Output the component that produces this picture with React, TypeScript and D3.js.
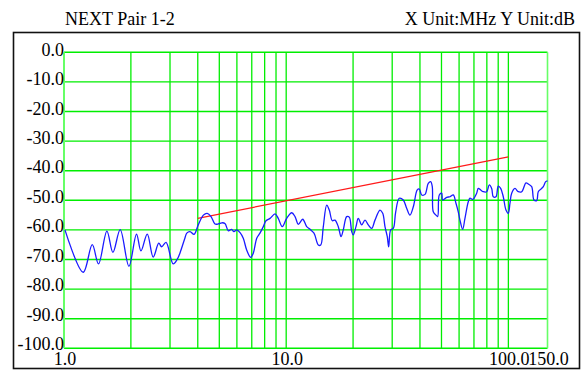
import React from "react";
import * as d3 from "d3";

const titleLeft = "NEXT Pair 1-2";
const titleRight = "X Unit:MHz Y Unit:dB";

const yTicks = [0, -10, -20, -30, -40, -50, -60, -70, -80, -90, -100];
const yTickLabels = ["0.0", "-10.0", "-20.0", "-30.0", "-40.0", "-50.0", "-60.0", "-70.0", "-80.0", "-90.0", "-100.0"];
const xTickValues = [1, 10, 100, 150];
const xTickLabels = ["1.0", "10.0", "100.0", "150.0"];
const gridFreqs = [2, 3, 4, 5, 6, 7, 8, 9, 10, 20, 30, 40, 50, 60, 70, 80, 90, 100];

// limit line (MHz, dB)
const limitFreq = [4, 100];
const limitDb = [-56.1, -35.3];

// measured NEXT curve (MHz, dB)
const measFreq = [
  1.01, 1.22, 1.34, 1.43, 1.56, 1.66, 1.79, 1.96, 2.12, 2.22, 2.37, 2.52, 2.67, 2.75, 2.88, 3.1, 3.24, 3.33,
  3.5, 3.57, 3.69, 3.85, 4.02, 4.24, 4.41, 4.59, 4.78, 4.95, 5.13, 5.3, 5.49, 5.68, 5.82, 5.99, 6.2, 6.41,
  6.64, 6.92, 7.11, 7.37, 7.62, 7.89, 8.11, 8.46, 8.91, 9.21, 9.6, 10.05, 10.59, 10.96, 11.34, 11.87,
  12.37, 12.8, 13.34, 13.95, 14.3, 14.69, 15.22, 15.63, 16.13, 16.58, 17.16, 17.65, 18.07, 18.72, 19.23,
  19.72, 20.04, 20.61, 21.11, 21.87, 22.63, 23.42, 24.26, 25.1, 26.43, 27.19, 27.84, 28.51, 28.93, 29.53,
  30.34, 31.11, 32.28, 33.65, 34.85, 36.06, 37.33, 38.9, 39.72, 40.72, 42.14, 43.6, 44.7, 45.45, 45.92,
  47.23, 48.06, 48.87, 50.1, 50.62, 52.77, 54.61, 56.49, 58.09, 59.49, 60.55, 62.26, 63.77, 66.0, 67.18,
  69.08, 72.0, 73.21, 75.06, 77.11, 79.87, 82.04, 84.11, 85.51, 87.94, 90.06, 92.33, 94.85, 97.55, 99.89,
  101.67, 103.49, 107.08, 110.8, 114.8, 120.0, 122.9, 127.3, 130.4, 134.1, 136.3, 139.8, 143.6, 147.2, 150,
];
const measDb = [
  -60.0, -74.3, -65.0, -71.5, -60.4, -67.6, -59.9, -72.3, -61.4, -67.1, -61.4, -69.2, -64.5, -65.7, -64.2, -71.5, -69.8, -67.7,
  -62.8, -61.1, -60.6, -61.5, -58.3, -55.0, -54.4, -55.5, -58.0, -58.0, -57.6, -57.8, -60.3, -59.8, -60.6, -60.0, -60.9, -62.8,
  -66.8, -69.3, -67.9, -62.8, -61.1, -58.9, -56.9, -56.1, -54.6, -56.1, -58.9, -56.1, -54.2, -55.5, -58.1, -56.4,
  -58.9, -59.8, -61.1, -65.1, -65.1, -58.9, -51.6, -53.3, -56.9, -56.7, -58.9, -62.3, -60.0, -55.5, -55.7,
  -60.6, -61.7, -58.9, -56.1, -58.3, -56.7, -58.3, -59.5, -56.7, -53.3, -54.4, -58.9, -62.3, -65.7, -60.0,
  -59.5, -53.9, -49.3, -49.9, -52.7, -55.0, -52.2, -46.5, -46.2, -48.2, -48.0, -44.3, -43.7, -45.4, -53.9,
  -55.0, -55.5, -48.2, -47.6, -49.9, -49.0, -48.8, -48.2, -51.0, -53.9, -56.7, -59.8, -56.1, -50.5, -49.3,
  -49.7, -47.6, -46.0, -46.5, -47.1, -47.1, -44.8, -46.0, -48.8, -48.8, -45.2, -46.0, -48.8, -53.3, -54.4,
  -51.0, -47.6, -46.0, -47.1, -47.1, -44.1, -44.5, -45.4, -49.9, -50.1, -47.1, -46.3, -45.4, -43.7, -43.4,
];

const W = 588;
const H = 383;
const textStyle: React.CSSProperties = {
  fontFamily: "Liberation Serif, Times New Roman, Times, serif",
  fontSize: "18px",
};

export default function App() {
  const x = d3.scaleLog().domain([1, 150]).range([64, 547.5]);
  const y = d3.scaleLinear().domain([0, -100]).range([52.3, 348.3]);

  const meas = measFreq.map((f, i) => [f, measDb[i]] as [number, number]);
  const limit = limitFreq.map((f, i) => [f, limitDb[i]] as [number, number]);

  const line = d3
    .line<[number, number]>()
    .x((d) => x(d[0]))
    .y((d) => y(d[1]))
    .curve(d3.curveCatmullRom.alpha(0.5));
  const straight = d3
    .line<[number, number]>()
    .x((d) => x(d[0]))
    .y((d) => y(d[1]));

  const [x0, x1] = x.range();
  const [y0, y1] = y.range();

  return (
    <svg
      width={W}
      height={H}
      style={{ position: "absolute", left: 0, top: 0, background: "#fff" }}
    >
      <rect x={0} y={0} width={W} height={H} fill="#fff" />
      <rect x={13.5} y={32.5} width={566} height={336} fill="none" stroke="#111" strokeWidth={1.6} />
      <text x={65} y={25} style={textStyle} fill="#000">
        {titleLeft}
      </text>
      <text x={575} y={25} style={textStyle} fill="#000" textAnchor="end">
        {titleRight}
      </text>

      {yTicks.map((v) => (
        <line key={"h" + v} x1={x0} x2={x1} y1={y(v)} y2={y(v)} stroke="#00ee00" strokeWidth={1.4} />
      ))}
      {gridFreqs.map((f) => (
        <line key={"v" + f} x1={x(f)} x2={x(f)} y1={y0} y2={y1} stroke="#00ee00" strokeWidth={1.3} />
      ))}
      <line x1={x0} x2={x0} y1={y0} y2={y1} stroke="#66ff66" strokeWidth={2} />
      <line x1={x1} x2={x1} y1={y0} y2={y1} stroke="#66ff66" strokeWidth={1.6} />

      {yTicks.map((v, i) => (
        <text key={"yl" + v} x={64} y={y(v) + 3.4 - i * 0.17} style={textStyle} textAnchor="end" fill="#000">
          {yTickLabels[i]}
        </text>
      ))}
      {xTickValues.map((f, i) => (
        <text key={"xl" + f} x={x(f) + 1} y={365} style={textStyle} textAnchor="middle" fill="#000">
          {xTickLabels[i]}
        </text>
      ))}

      <path d={straight(limit) || ""} fill="none" stroke="#ff1a1a" strokeWidth={1.3} />
      <path d={line(meas) || ""} fill="none" stroke="#1a1aff" strokeWidth={1.3} strokeLinejoin="round" />
    </svg>
  );
}
